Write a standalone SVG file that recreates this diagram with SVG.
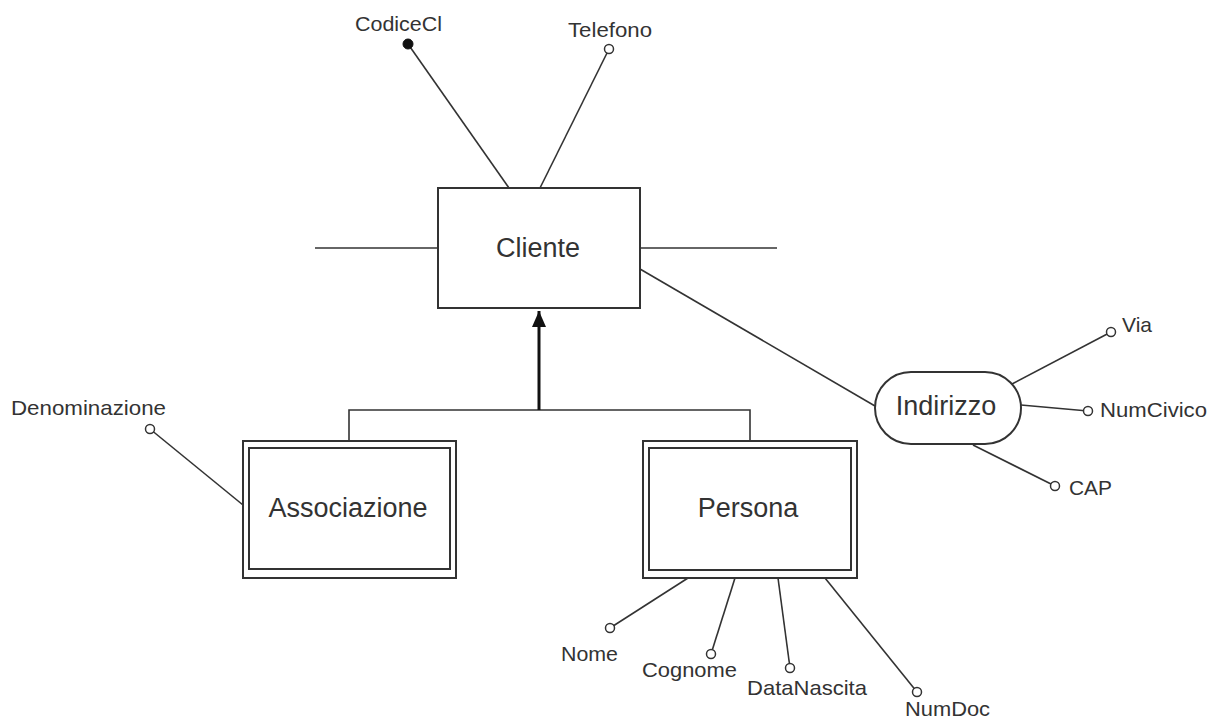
<svg xmlns="http://www.w3.org/2000/svg" width="1218" height="720" viewBox="0 0 1218 720">
<style>
.box{fill:#fff;stroke:#333;stroke-width:2}
.ln{stroke:#333;stroke-width:1.6;fill:none}
.att{fill:#fff;stroke:#333;stroke-width:1.5}
.key{fill:#111;stroke:#111;stroke-width:1}
text{font-family:"Liberation Sans",Arial,sans-serif;fill:#333}
.sm{font-size:21px}
.big{font-size:27px;text-anchor:middle}
</style>
<defs>
<marker id="tri" markerUnits="userSpaceOnUse" markerWidth="16" markerHeight="14" viewBox="0 0 16 14" refX="16" refY="7" orient="auto">
<path d="M0,0 L16,7 L0,14 z" fill="#111"/>
</marker>
</defs>
<rect width="1218" height="720" fill="#fff"/>
<g id="connectors">
<line class="ln" x1="315" y1="248" x2="438" y2="248"/>
<line class="ln" x1="640" y1="248" x2="777" y2="248"/>
<line class="ln" x1="408" y1="44" x2="509" y2="188"/>
<line class="ln" x1="609" y1="49" x2="540" y2="188"/>
<line class="ln" x1="640" y1="269" x2="875" y2="406"/>
<line class="ln" x1="1012" y1="384" x2="1111" y2="332"/>
<line class="ln" x1="1021" y1="405" x2="1088" y2="411"/>
<line class="ln" x1="973" y1="445" x2="1055" y2="486"/>
<line class="ln" x1="150" y1="429" x2="243" y2="505"/>
<line class="ln" x1="688" y1="578" x2="610" y2="628"/>
<line class="ln" x1="735" y1="578" x2="711" y2="654"/>
<line class="ln" x1="778" y1="578" x2="790" y2="668"/>
<line class="ln" x1="825" y1="578" x2="917" y2="692"/>
<polyline class="ln" points="349,448 349,410 750,410 750,441"/>
<line x1="539" y1="410" x2="539" y2="311" stroke="#111" stroke-width="3" marker-end="url(#tri)"/>
</g>
<g id="Cliente">
<rect class="box" x="438" y="188" width="202" height="120"/>
<text class="big" x="538" y="257">Cliente</text>
</g>
<g id="Associazione">
<rect class="box" x="243" y="441" width="213" height="137"/>
<rect class="box" x="249" y="448" width="201" height="121"/>
<text class="big" x="348" y="517">Associazione</text>
</g>
<g id="Persona">
<rect class="box" x="643" y="441" width="214" height="137"/>
<rect class="box" x="649" y="448" width="202" height="122"/>
<text class="big" x="748" y="517">Persona</text>
</g>
<g id="Indirizzo">
<rect class="box" x="875" y="372" width="146" height="72" rx="36" ry="36"/>
<text class="big" x="946" y="415">Indirizzo</text>
</g>
<g id="attr-CodiceCl">
<circle class="key" cx="408" cy="44" r="5"/>
<text class="sm" x="355" y="31" textLength="87" lengthAdjust="spacingAndGlyphs">CodiceCl</text>
</g>
<g id="attr-Telefono">
<circle class="att" cx="609" cy="49" r="4.5"/>
<text class="sm" x="568" y="37" textLength="84" lengthAdjust="spacingAndGlyphs">Telefono</text>
</g>
<g id="attr-Denominazione">
<circle class="att" cx="150" cy="429" r="4.5"/>
<text class="sm" x="11" y="415" textLength="155" lengthAdjust="spacingAndGlyphs">Denominazione</text>
</g>
<g id="attr-Via">
<circle class="att" cx="1111" cy="332" r="4.5"/>
<text class="sm" x="1122" y="332" textLength="30" lengthAdjust="spacingAndGlyphs">Via</text>
</g>
<g id="attr-NumCivico">
<circle class="att" cx="1088" cy="411" r="4.5"/>
<text class="sm" x="1100" y="417" textLength="107" lengthAdjust="spacingAndGlyphs">NumCivico</text>
</g>
<g id="attr-CAP">
<circle class="att" cx="1055" cy="486" r="4.5"/>
<text class="sm" x="1069" y="495" textLength="43" lengthAdjust="spacingAndGlyphs">CAP</text>
</g>
<g id="attr-Nome">
<circle class="att" cx="610" cy="628" r="4.5"/>
<text class="sm" x="561" y="661" textLength="57" lengthAdjust="spacingAndGlyphs">Nome</text>
</g>
<g id="attr-Cognome">
<circle class="att" cx="711" cy="654" r="4.5"/>
<text class="sm" x="642" y="677" textLength="95" lengthAdjust="spacingAndGlyphs">Cognome</text>
</g>
<g id="attr-DataNascita">
<circle class="att" cx="790" cy="668" r="4.5"/>
<text class="sm" x="747" y="695" textLength="120" lengthAdjust="spacingAndGlyphs">DataNascita</text>
</g>
<g id="attr-NumDoc">
<circle class="att" cx="917" cy="692" r="4.5"/>
<text class="sm" x="905" y="716" textLength="85" lengthAdjust="spacingAndGlyphs">NumDoc</text>
</g>
</svg>
